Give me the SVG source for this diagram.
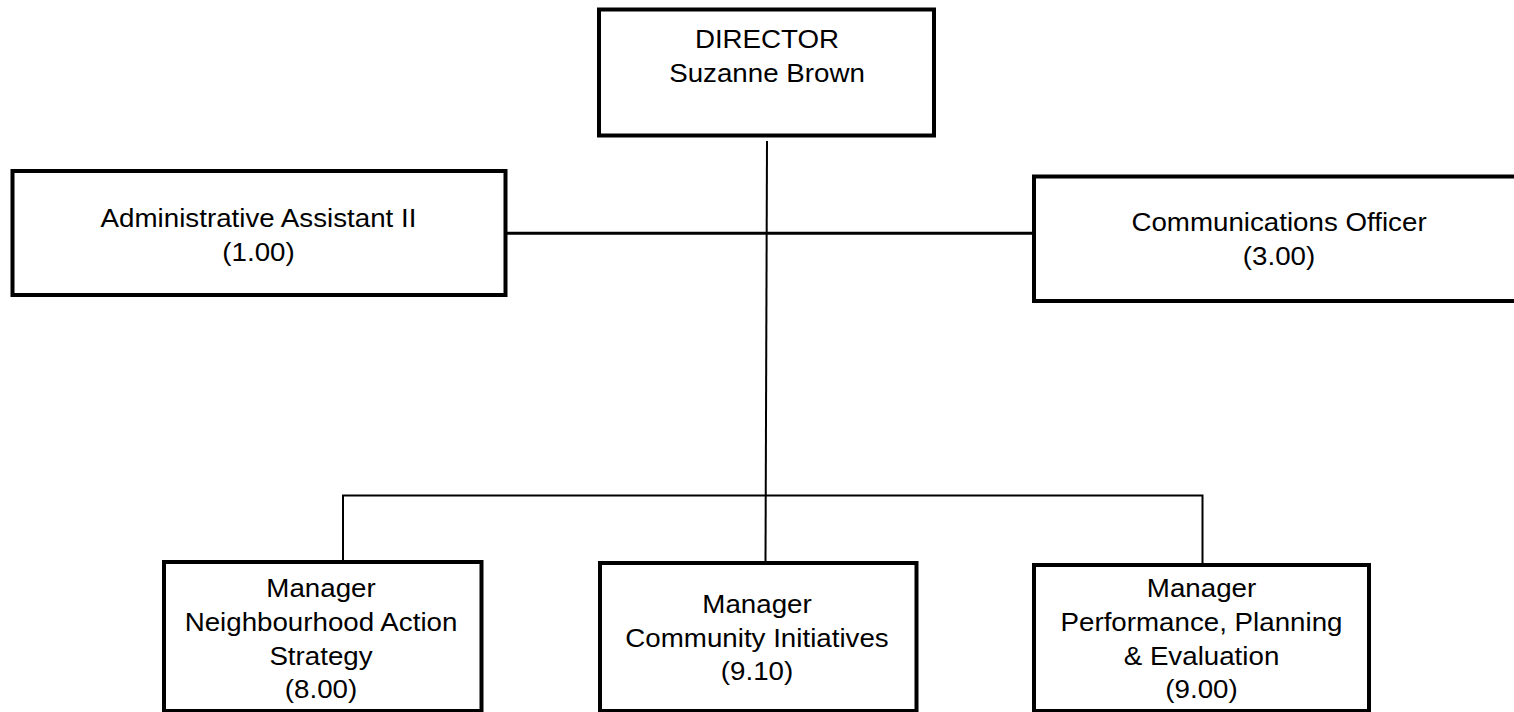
<svg xmlns="http://www.w3.org/2000/svg" width="1514" height="712" viewBox="0 0 1514 712">
<style>
.box{fill:#fff;stroke:#000;stroke-width:4}
.con{stroke:#000;fill:none}
text{font-family:"Liberation Sans",Arial,sans-serif;font-size:25.8px;fill:#000;text-anchor:middle}
</style>
<rect width="1514" height="712" fill="#fff"/>
<g id="connectors">
<line class="con" x1="506" y1="233.3" x2="1034" y2="233.3" stroke-width="3"/>
<line class="con" x1="767" y1="141" x2="765.5" y2="562" stroke-width="2"/>
<polyline class="con" points="343,562 343,495.5 1202.5,495.5 1202.5,565" stroke-width="2"/>
</g>
<g id="director">
<rect class="box" x="599" y="9.5" width="335" height="126"/>
<g transform="translate(767 0) scale(1.075 1)"><text x="0" y="48.5">DIRECTOR</text><text x="0" y="82.5">Suzanne Brown</text></g>
</g>
<g id="admin">
<rect class="box" x="12.5" y="171" width="493" height="124"/>
<g transform="translate(258.5 0) scale(1.075 1)"><text x="0" y="227">Administrative Assistant II</text><text x="0" y="261">(1.00)</text></g>
</g>
<g id="comms">
<rect class="box" x="1034" y="176.5" width="500" height="124.5"/>
<g transform="translate(1279 0) scale(1.075 1)"><text x="0" y="231">Communications Officer</text><text x="0" y="265">(3.00)</text></g>
</g>
<g id="mgr-nas">
<rect class="box" x="164" y="562" width="317.5" height="149"/>
<g transform="translate(321 0) scale(1.075 1)"><text x="0" y="597">Manager</text><text x="0" y="631">Neighbourhood Action</text><text x="0" y="665">Strategy</text><text x="0" y="698.5">(8.00)</text></g>
</g>
<g id="mgr-ci">
<rect class="box" x="600" y="563" width="316.5" height="148"/>
<g transform="translate(757 0) scale(1.075 1)"><text x="0" y="613">Manager</text><text x="0" y="647">Community Initiatives</text><text x="0" y="680.5">(9.10)</text></g>
</g>
<g id="mgr-ppe">
<rect class="box" x="1034" y="565" width="335" height="146"/>
<g transform="translate(1201.5 0) scale(1.075 1)"><text x="0" y="597">Manager</text><text x="0" y="631">Performance, Planning</text><text x="0" y="665">&amp; Evaluation</text><text x="0" y="698.5">(9.00)</text></g>
</g>
</svg>
